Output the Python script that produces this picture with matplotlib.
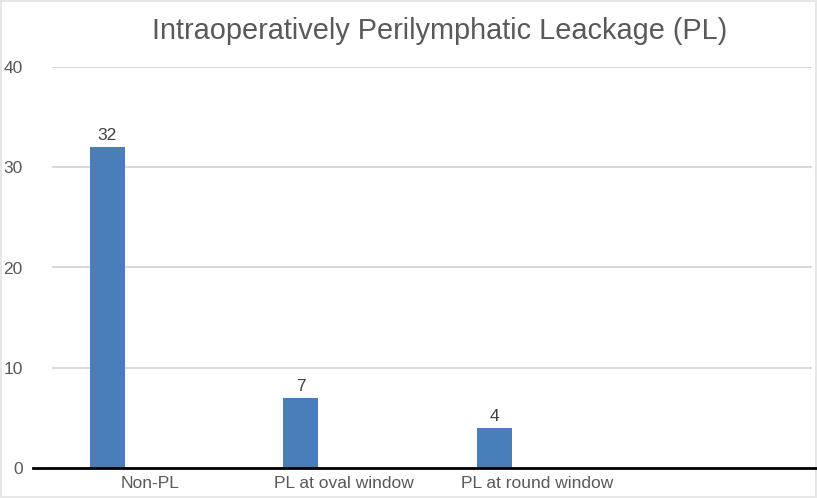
import matplotlib
matplotlib.use("Agg")
import matplotlib.pyplot as plt

categories = ["Non-PL", "PL at oval window", "PL at round window"]
counts = [32, 7, 4]
y_ticks = [0, 10, 20, 30, 40]

BAR_COLOR = "#4a7ebb"
TEXT_COLOR = "#595959"
FONT = ["Liberation Sans", "DejaVu Sans"]

fig = plt.figure(figsize=(8.17, 4.98), dpi=100)
fig.patch.set_edgecolor("#e6e6e6")
fig.patch.set_linewidth(1.5)
ax = fig.add_axes([52 / 817, 30 / 498, 760 / 817, 401 / 498])

x = list(range(len(categories)))
bars = ax.bar(x, counts, width=0.18, color=BAR_COLOR, zorder=3)
for b, v in zip(bars, counts):
    ax.text(b.get_x() + b.get_width() / 2, v + 0.4, str(v), ha="center", va="bottom",
            fontsize=12.5, color="#404040", fontfamily=FONT)

ax.set_xlim(-0.285, 3.64)
ax.set_ylim(0, 40)
ax.set_yticks(y_ticks)
ax.set_yticklabels([str(t) for t in y_ticks], fontsize=12.5, color=TEXT_COLOR, fontfamily=FONT)
ax.tick_params(axis="y", length=0, pad=21)
ax.set_xticks([i + 0.22 for i in x])
ax.set_xticklabels(categories, fontsize=12.5, color=TEXT_COLOR, fontfamily=FONT)
ax.tick_params(axis="x", length=0, pad=6)

ax.yaxis.grid(True, color="#d9d9d9", linewidth=1.5, zorder=0)
for s in ["top", "right", "left", "bottom"]:
    ax.spines[s].set_visible(False)
ax.axhline(0, xmin=-0.025, xmax=1.01, color="black", linewidth=2, clip_on=False, zorder=4)

fig.text(0.538, 0.938, "Intraoperatively Perilymphatic Leackage (PL)", ha="center", va="center",
         fontsize=20.8, color=TEXT_COLOR, fontfamily=FONT)

fig.savefig("out.png", dpi=100)
plt.close(fig)
